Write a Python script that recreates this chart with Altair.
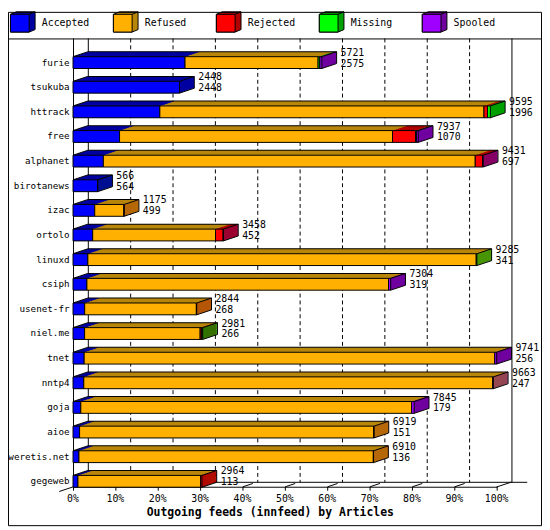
import altair as alt
import pandas as pd

# ---------------- data ----------------
sites = ["furie", "tsukuba", "httrack", "free", "alphanet", "birotanews", "izac",
         "ortolo", "linuxd", "csiph", "usenet-fr", "niel.me", "tnet", "nntp4",
         "goja", "aioe", "weretis.net", "gegeweb"]
offered = [5721, 2448, 9595, 7937, 9431, 566, 1175, 3458, 9285, 7304, 2844, 2981,
           9741, 9663, 7845, 6919, 6910, 2964]
accepted = [2575, 2448, 1996, 1070, 697, 564, 499, 452, 341, 319, 268, 266,
            256, 247, 179, 151, 136, 113]
refused = [3060, 0, 7453, 6276, 8551, 0, 671, 2824, 8930, 6935, 2568, 2657,
           9440, 9404, 7606, 6763, 6769, 2821]
rejected = [0, 0, 80, 530, 168, 0, 5, 175, 0, 0, 8, 38, 0, 0, 0, 5, 5, 30]
missing = [40, 0, 66, 25, 0, 2, 0, 0, 14, 0, 0, 20, 0, 0, 0, 0, 0, 0]
spooled = [46, 0, 0, 36, 15, 0, 0, 7, 0, 50, 0, 0, 45, 12, 60, 0, 0, 0]

categories = ["Accepted", "Refused", "Rejected", "Missing", "Spooled"]
front_colors = ["#0000FF", "#FFB000", "#FF0000", "#00FF00", "#A000FF"]
dark_colors = ["#0000A0", "#B8860B", "#B00000", "#00A000", "#7000A0"]

tick_values = [0, 10, 20, 30, 40, 50, 60, 70, 80, 90, 100]
tick_labels = ["0%", "10%", "20%", "30%", "40%", "50%", "60%", "70%", "80%", "90%", "100%"]
axis_title = "Outgoing feeds (innfeed) by Articles"

# ---------------- tables ----------------
scale_max = max(offered)
rows = []
for i, s in enumerate(sites):
    vals = [accepted[i], refused[i], rejected[i], missing[i], spooled[i]]
    cum = 0
    for c, v in zip(categories, vals):
        if v > 0:
            rows.append({"site": s, "cat": c,
                         "start": cum / scale_max * 100,
                         "end": (cum + v) / scale_max * 100})
        cum += v
seg = pd.DataFrame(rows)
bars = pd.DataFrame({"site": sites, "offered": offered, "accepted": accepted,
                     "lo": [tick_values[0]] * len(sites),
                     "total_pct": [o / scale_max * 100 for o in offered]})
ticks = pd.DataFrame({"tick": tick_values, "label": tick_labels})
floor = pd.DataFrame({"lo": [tick_values[0]], "hi": [tick_values[-1]]})
leg = pd.DataFrame({"cat": categories})
one = pd.DataFrame({"t": [axis_title]})

# ---------------- style ----------------
FONT = "DejaVu Sans Mono"
OFF = 8
DX, DY = 15, 5
BAR_H = 12
SLANT = "M-1,0.3333L1,-0.3333"
CUBE = "M-1,-0.62L-0.52,-0.82L1,-0.82L1,0.62L0.52,0.82L-1,0.82Z"
CUBE_EDGE = "M0.52,-0.62L1,-0.82"

xs = alt.Scale(domain=[0, 100], range=[74 - OFF, 504 - OFF])
ys = alt.Scale(domain=sites, range=[47 - OFF, 497 - OFF], paddingInner=0, paddingOuter=0)
front_scale = alt.Scale(domain=categories, range=front_colors)
dark_scale = alt.Scale(domain=categories, range=dark_colors)
lx = alt.X("cat:N", scale=alt.Scale(type="point", domain=categories, range=[2, 420], padding=0), axis=None)


def X(f):
    return alt.X(f, type="quantitative", scale=xs, axis=None)


def Y():
    return alt.Y("site:N", scale=ys, axis=None)


L = []
# separator under legend
L.append(alt.Chart(one).mark_rule(color="black", strokeWidth=1).encode(
    x=alt.value(0), x2=alt.value(542), y=alt.value(27.5)))

# legend cubes
L.append(alt.Chart(leg).mark_point(shape=CUBE, size=625, filled=True, stroke="black",
                                   strokeWidth=1, opacity=1, xOffset=13).encode(
    x=lx, y=alt.value(10.25), fill=alt.Fill("cat:N", scale=dark_scale, legend=None)))
L.append(alt.Chart(leg).mark_rect(stroke="black", strokeWidth=1, xOffset=0.5, x2Offset=19.5).encode(
    x=lx, x2=alt.X2("cat"), y=alt.value(2.5), y2=alt.value(20.5),
    fill=alt.Fill("cat:N", scale=front_scale, legend=None)))
L.append(alt.Chart(leg).mark_point(shape=CUBE_EDGE, size=625, filled=False, stroke="black",
                                   strokeWidth=1, opacity=1, xOffset=13).encode(
    x=lx, y=alt.value(10.25)))
L.append(alt.Chart(leg).mark_text(align="left", baseline="middle", dx=32.3, font=FONT,
                                  fontSize=10, color="black").encode(
    x=lx, y=alt.value(11.5), text="cat:N"))

# back grid
L.append(alt.Chart(ticks).transform_filter("datum.tick > 0 && datum.tick < 100").mark_rule(
    color="black", strokeWidth=1, strokeDash=[4, 3], xOffset=DX + 0.5).encode(
    x=X("tick"), y=alt.value(27), y2=alt.value(477.5)))
L.append(alt.Chart(ticks).transform_filter("datum.tick == 0 || datum.tick == 100").mark_rule(
    color="black", strokeWidth=1, xOffset=DX + 0.5).encode(
    x=X("tick"), y=alt.value(27), y2=alt.value(478)))
# front left axis line
L.append(alt.Chart(ticks).transform_filter("datum.tick == 0").mark_rule(
    color="black", strokeWidth=1, xOffset=0.5).encode(
    x=X("tick"), y=alt.value(27), y2=alt.value(485)))
# floor
L.append(alt.Chart(floor).mark_rule(color="black", strokeWidth=1, xOffset=DX, x2Offset=DX + 16).encode(
    x=X("lo"), x2=alt.X2("hi"), y=alt.value(477.5)))
L.append(alt.Chart(floor).mark_rule(color="black", strokeWidth=1, x2Offset=1).encode(
    x=X("lo"), x2=alt.X2("hi"), y=alt.value(482.5)))
L.append(alt.Chart(ticks).mark_rule(color="black", strokeWidth=1, xOffset=0.5).encode(
    x=X("tick"), y=alt.value(482), y2=alt.value(486)))
L.append(alt.Chart(ticks).transform_filter("datum.tick > 0 && datum.tick < 100").mark_point(
    shape=SLANT, size=100, filled=False, stroke="black", strokeWidth=1, opacity=1, xOffset=5.5).encode(
    x=X("tick"), y=alt.value(480.35)))
L.append(alt.Chart(ticks).transform_filter("datum.tick == 100").mark_point(
    shape=SLANT, size=225, filled=False, stroke="black", strokeWidth=1, opacity=1, xOffset=7.5).encode(
    x=X("tick"), y=alt.value(479.75)))
L.append(alt.Chart(ticks).transform_filter("datum.tick == 0").mark_point(
    shape=SLANT, size=196, filled=False, stroke="black", strokeWidth=1, opacity=1, xOffset=-7).encode(
    x=X("tick"), y=alt.value(484.5)))

# bar extrusions (top and right faces)
for k in range(DX, 0, -1):
    off = -k * DY / DX
    L.append(alt.Chart(seg).mark_bar(height=BAR_H, xOffset=k, x2Offset=k, yOffset=off, y2Offset=off).encode(
        x=X("start"), x2=alt.X2("end"), y=Y(),
        fill=alt.Fill("cat:N", scale=dark_scale, legend=None)))
# front faces
L.append(alt.Chart(seg).mark_bar(height=BAR_H, stroke="black", strokeWidth=1).encode(
    x=X("start"), x2=alt.X2("end"), y=Y(),
    fill=alt.Fill("cat:N", scale=front_scale, legend=None)))
# 3D edges
top_off = -(BAR_H / 2 + DY)
L.append(alt.Chart(bars).mark_bar(height=1, color="black", xOffset=DX, x2Offset=DX,
                                  yOffset=top_off, y2Offset=top_off).encode(
    x=X("lo"), x2=alt.X2("total_pct"), y=Y()))
L.append(alt.Chart(bars).mark_bar(height=BAR_H, color="black", xOffset=DX - 0.5, x2Offset=DX + 0.5,
                                  yOffset=-DY, y2Offset=-DY).encode(
    x=X("total_pct"), x2=alt.X2("total_pct"), y=Y()))
for fld, yo in [("lo", -(BAR_H / 2 + DY / 2)), ("total_pct", -(BAR_H / 2 + DY / 2)),
                ("total_pct", BAR_H / 2 - DY / 2)]:
    L.append(alt.Chart(bars).mark_point(shape=SLANT, size=DX * DX, filled=False, stroke="black",
                                        strokeWidth=1, opacity=1, xOffset=DX / 2, yOffset=yo).encode(
        x=X(fld), y=Y()))

# texts
L.append(alt.Chart(bars).mark_text(align="right", baseline="middle", font=FONT, fontSize=9.4,
                                   color="black").encode(
    x=alt.value(62.5), y=Y(), text="site:N"))
L.append(alt.Chart(bars).mark_text(align="left", baseline="middle", font=FONT, fontSize=10,
                                   color="black", dx=19, dy=-10).encode(
    x=X("total_pct"), y=Y(), text="offered:Q"))
L.append(alt.Chart(bars).mark_text(align="left", baseline="middle", font=FONT, fontSize=10,
                                   color="black", dx=19, dy=1).encode(
    x=X("total_pct"), y=Y(), text="accepted:Q"))
L.append(alt.Chart(ticks).mark_text(align="center", baseline="middle", font=FONT, fontSize=10,
                                    color="black").encode(
    x=X("tick"), y=alt.value(502.5 - OFF), text="label:N"))
L.append(alt.Chart(one).mark_text(align="center", baseline="middle", font=FONT, fontSize=11.6,
                                  fontWeight="bold", color="black").encode(
    x=alt.value(274.2 - OFF), y=alt.value(516.7 - OFF), text="t:N"))

# frame
L.append(alt.Chart(one).mark_rect(fillOpacity=0, stroke="black", strokeWidth=1).encode(
    x=alt.value(0.5), x2=alt.value(541.5), y=alt.value(0.5), y2=alt.value(521.5)))

chart = alt.layer(*L).resolve_scale(
    x="independent", y="independent", fill="independent"
).properties(
    width=542, height=522, autosize=alt.AutoSizeParams(type="none"), padding=0
).configure_view(strokeWidth=0)

chart.save("out.html", embed_options={"renderer": "svg", "actions": False})
